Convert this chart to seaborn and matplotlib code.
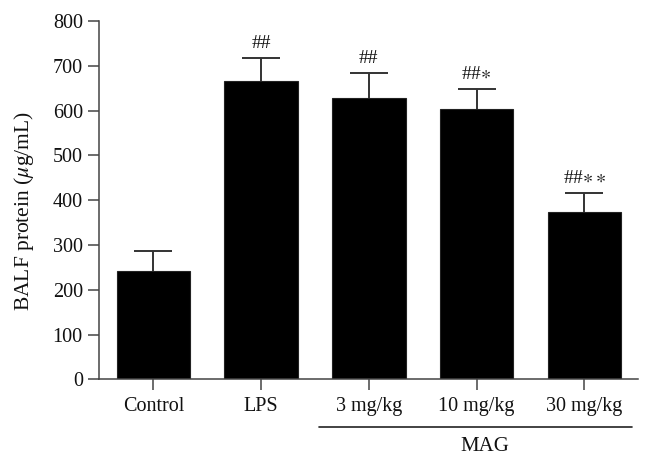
import matplotlib
matplotlib.use("Agg")
import matplotlib.pyplot as plt
import seaborn as sns
import pandas as pd

categories = ["Control", "LPS", "3 mg/kg", "10 mg/kg", "30 mg/kg"]
means = [242, 666, 629, 604, 374]
sems = [44, 52, 55, 45, 43]
marks = ["", "##", "##", "##$\\ast$", "##$\\ast\\ast$"]
group_label = "MAG"

sns.set_theme(style="ticks")
plt.rcParams["font.family"] = ["Liberation Serif", "DejaVu Serif"]
plt.rcParams["mathtext.fontset"] = "stix"

fig = plt.figure(figsize=(6.52, 4.63), dpi=100)
ax = fig.add_axes([0.1526, 0.1808, 0.8263, 0.7739])

df = pd.DataFrame({"group": categories, "value": means})
sns.barplot(data=df, x="group", y="value", order=categories, color="black",
            width=0.68, edgecolor="#222222", linewidth=0.8, saturation=1,
            errorbar=None, ax=ax)

xs = list(range(len(categories)))
eb = ax.errorbar(xs, means, yerr=[[0] * len(sems), sems], fmt="none",
                 ecolor="#333333", elinewidth=1.4, capsize=13.5, capthick=1.4, zorder=3)
# keep only the upper caps
eb[1][0].set_visible(False)

for x, m, s, t in zip(xs, means, sems, marks):
    if t:
        ax.annotate(t, xy=(x, m + s), xytext=(0, 4), textcoords="offset points",
                    ha="center", va="bottom", fontsize=14, color="#111111")

ax.set_xlim(-0.5, 4.5)
ax.set_ylim(0, 800)
ax.set_yticks(range(0, 801, 100))
ax.set_xlabel("")
ax.set_ylabel("BALF protein ($\\mu$g/mL)", fontsize=15.5, color="#111111")
ax.yaxis.set_label_coords(-0.118, 0.47)

for side in ["top", "right"]:
    ax.spines[side].set_visible(False)
for side in ["left", "bottom"]:
    ax.spines[side].set_color("#444444")
    ax.spines[side].set_linewidth(1.1)

ax.tick_params(axis="both", direction="out", length=8, width=1.1, color="#444444",
               labelsize=14.5, labelcolor="#111111")
ax.tick_params(axis="x", pad=5)
ax.tick_params(axis="y", pad=4)

# MAG group bracket
ax.plot([1.54, 4.44], [-0.132, -0.132], transform=ax.get_xaxis_transform(),
        color="#222222", linewidth=1.2, clip_on=False)
ax.text(3.08, -0.16, group_label, transform=ax.get_xaxis_transform(),
        ha="center", va="top", fontsize=15, color="#111111")

fig.savefig("out.png", dpi=100)
